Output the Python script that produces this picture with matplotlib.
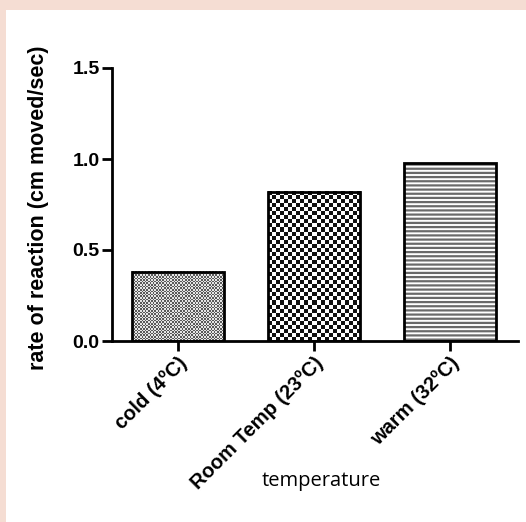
import numpy as np
import matplotlib
matplotlib.use("Agg")
import matplotlib.pyplot as plt
from matplotlib.patches import Rectangle

categories = ["cold (4ºC)", "Room Temp (23ºC)", "warm (32ºC)"]
rates = [0.38, 0.82, 0.98]
y_ticks = [0.0, 0.5, 1.0, 1.5]
y_tick_labels = ["0.0", "0.5", "1.0", "1.5"]

plt.rcParams['font.family'] = ['Liberation Sans', 'DejaVu Sans']
plt.rcParams['hatch.linewidth'] = 1.6

fig = plt.figure(figsize=(5.26, 5.22), dpi=100, facecolor="#f5ddd3")
# white panel inside the pink frame
fig.patches.append(Rectangle((6 / 526, 0), 1, 1 - 10 / 522, transform=fig.transFigure,
                             facecolor="white", edgecolor="none", zorder=-5))

ax = fig.add_axes([112 / 526, (522 - 341) / 522, 406 / 526, 273 / 522])
ax.set_facecolor("none")

x = np.arange(len(categories))
width = 0.68

bars = ax.bar(x, rates, width=width, color="white", edgecolor="black", linewidth=2.0, zorder=3)
for b in bars:
    b.set_facecolor("none")

ax.set_xlim(-0.485, 2.5)
ax.set_ylim(0, 1.5)


def checker_fill(bar, square_px, c1, c2):
    # fill a bar with a checker pattern of given pixel size
    x0, w, h = bar.get_x(), bar.get_width(), bar.get_height()
    p0 = ax.transData.transform((x0, 0))
    p1 = ax.transData.transform((x0 + w, h))
    nx = max(1, int(round((p1[0] - p0[0]) / square_px)))
    ny = max(1, int(round((p1[1] - p0[1]) / square_px)))
    iy, ix = np.indices((ny, nx))
    img = (ix + iy) % 2
    cmap = matplotlib.colors.ListedColormap([c1, c2])
    ax.imshow(img, extent=(x0, x0 + w, 0, h), cmap=cmap, interpolation="nearest",
              aspect="auto", zorder=2)


checker_fill(bars[0], 1.6, "#5a5a5a", "#e6e6e6")
checker_fill(bars[1], 4.0, "#111111", "#ffffff")
ax.bar(x[2], rates[2], width=width, color="white", edgecolor="#6a6a6a", linewidth=0,
       hatch="----", zorder=2)

ax.set_xlim(-0.485, 2.5)
ax.set_ylim(0, 1.5)

ax.spines["top"].set_visible(False)
ax.spines["right"].set_visible(False)
ax.spines["left"].set_linewidth(2.0)
ax.spines["bottom"].set_linewidth(2.0)

ax.set_yticks(y_ticks)
ax.set_yticklabels(y_tick_labels, fontsize=14, fontweight="bold")
ax.set_xticks(x)
ax.set_xticklabels(categories, fontsize=14.5, fontweight="bold", rotation=45,
                   ha="right", rotation_mode="anchor")
ax.tick_params(axis="both", width=2.0, length=7, pad=2)

ax.set_ylabel("rate of reaction (cm moved/sec)", fontsize=15.5, fontweight="bold")
ax.yaxis.set_label_coords(-0.155, 0.487)
ax.set_xlabel("temperature", fontsize=14.5, family=["Open Sans", "DejaVu Sans"])
ax.xaxis.set_label_coords(0.515, -0.475)

fig.savefig("out.png", dpi=100, facecolor=fig.get_facecolor())
